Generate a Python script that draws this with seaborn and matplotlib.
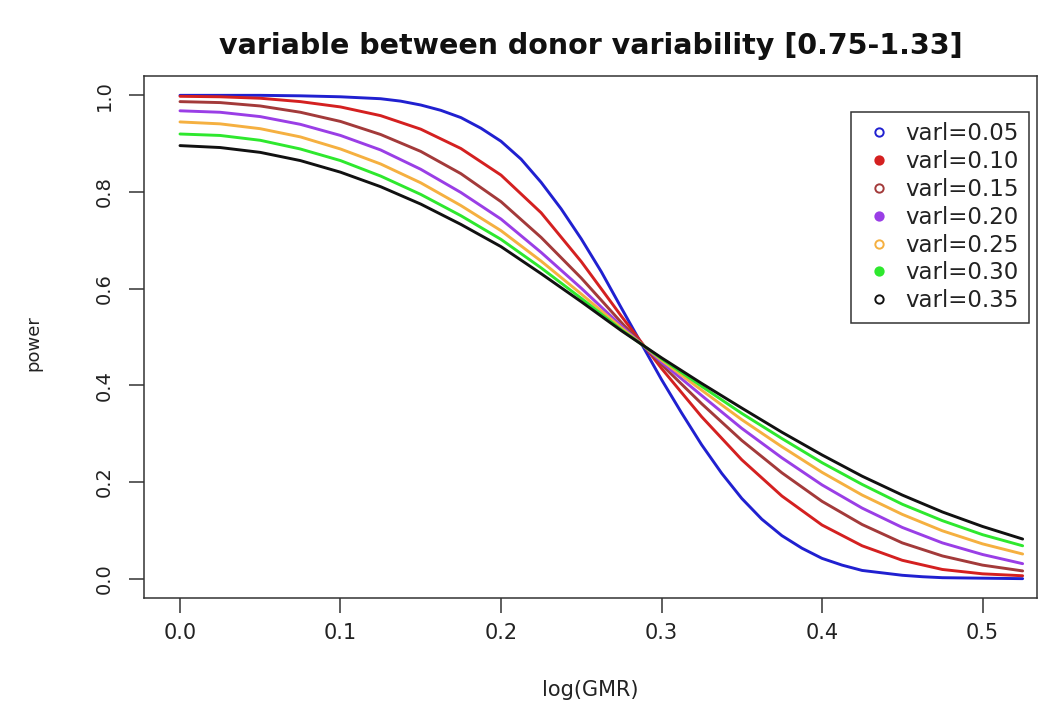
import numpy as np
import pandas as pd
import matplotlib
matplotlib.use("Agg")
import matplotlib.pyplot as plt
import seaborn as sns
from matplotlib.lines import Line2D

# ---------------- data ----------------
log_gmr = [0.000, 0.025, 0.050, 0.075, 0.100, 0.125, 0.150, 0.175, 0.200, 0.225, 0.250,
           0.275, 0.300, 0.325, 0.350, 0.375, 0.400, 0.425, 0.450, 0.475, 0.500, 0.525]

# the steep varl=0.05 curve was read at a finer step
log_gmr_005 = [0.000, 0.025, 0.050, 0.075, 0.100, 0.125, 0.1375, 0.150, 0.1625, 0.175,
               0.1875, 0.200, 0.2125, 0.225, 0.2375, 0.250, 0.2625, 0.275, 0.2875, 0.300,
               0.3125, 0.325, 0.3375, 0.350, 0.3625, 0.375, 0.3875, 0.400, 0.4125, 0.425,
               0.4375, 0.450, 0.4625, 0.475, 0.500, 0.525]

varl_labels = ["varl=0.05", "varl=0.10", "varl=0.15", "varl=0.20",
               "varl=0.25", "varl=0.30", "varl=0.35"]

power_005 = [1.000, 1.000, 1.000, 0.999, 0.997, 0.993, 0.988, 0.980, 0.969, 0.954,
             0.932, 0.905, 0.868, 0.820, 0.765, 0.703, 0.635, 0.560, 0.486, 0.412,
             0.343, 0.277, 0.218, 0.166, 0.123, 0.089, 0.063, 0.042, 0.028, 0.017,
             0.012, 0.007, 0.004, 0.002, 0.001, 0.000]
power_010 = [0.998, 0.997, 0.994, 0.987, 0.976, 0.958, 0.930, 0.890, 0.835, 0.757, 0.656,
             0.543, 0.435, 0.335, 0.246, 0.171, 0.111, 0.068, 0.038, 0.019, 0.010, 0.006]
power_015 = [0.987, 0.985, 0.978, 0.965, 0.946, 0.919, 0.884, 0.838, 0.780, 0.706, 0.622,
             0.530, 0.443, 0.362, 0.286, 0.219, 0.160, 0.112, 0.074, 0.047, 0.028, 0.016]
power_020 = [0.968, 0.965, 0.956, 0.940, 0.917, 0.887, 0.847, 0.799, 0.744, 0.675, 0.601,
             0.523, 0.448, 0.379, 0.311, 0.250, 0.194, 0.146, 0.106, 0.074, 0.050, 0.031]
power_025 = [0.945, 0.941, 0.931, 0.914, 0.889, 0.858, 0.819, 0.772, 0.720, 0.657, 0.589,
             0.519, 0.452, 0.390, 0.329, 0.273, 0.220, 0.173, 0.133, 0.099, 0.072, 0.051]
power_030 = [0.920, 0.917, 0.907, 0.889, 0.865, 0.833, 0.795, 0.751, 0.702, 0.643, 0.580,
             0.515, 0.455, 0.398, 0.342, 0.290, 0.240, 0.195, 0.154, 0.120, 0.091, 0.068]
power_035 = [0.896, 0.892, 0.882, 0.865, 0.841, 0.811, 0.775, 0.733, 0.687, 0.631, 0.573,
             0.513, 0.457, 0.404, 0.353, 0.303, 0.256, 0.212, 0.173, 0.138, 0.108, 0.082]

x_ticks = [0.0, 0.1, 0.2, 0.3, 0.4, 0.5]
x_tick_labels = ["0.0", "0.1", "0.2", "0.3", "0.4", "0.5"]
y_ticks = [0.0, 0.2, 0.4, 0.6, 0.8, 1.0]
y_tick_labels = ["0.0", "0.2", "0.4", "0.6", "0.8", "1.0"]

# ---------------- styles ----------------
line_colors = ["#2020d0", "#d42020", "#a33a3a", "#9a3ee6", "#f5b040", "#2ee82e", "#111111"]
marker_filled = [False, True, False, True, False, True, False]

sns.set_theme(style="white")
plt.rcParams["font.family"] = ["DejaVu Sans"]

series_y = [power_005, power_010, power_015, power_020, power_025, power_030, power_035]
series_x = [log_gmr_005] + [log_gmr] * 6
frames = []
for lab, xs, ys in zip(varl_labels, series_x, series_y):
    frames.append(pd.DataFrame({"logGMR": xs, "power": ys, "varl": lab}))
df = pd.concat(frames, ignore_index=True)

fig = plt.figure(figsize=(10.4, 7.13), dpi=100)
ax = fig.add_axes([0.1385, 0.1613, 0.8587, 0.7321])

sns.lineplot(data=df, x="logGMR", y="power", hue="varl", hue_order=varl_labels,
             palette=line_colors, linewidth=2.1, estimator=None, sort=False,
             legend=False, ax=ax)

ax.set_xlim(-0.0224, 0.534)
ax.set_ylim(-0.04, 1.04)

ax.set_xticks(x_ticks)
ax.set_xticklabels(x_tick_labels, fontsize=15, color="#222222")
ax.set_yticks(y_ticks)
ax.set_yticklabels(y_tick_labels, fontsize=14, rotation=90, va="center", color="#222222")

ax.tick_params(axis="both", which="major", direction="out", length=11, width=1.1,
               color="#333333", bottom=True, left=True, top=False, right=False)
ax.tick_params(axis="x", pad=7)
ax.tick_params(axis="y", pad=11)

for sp in ax.spines.values():
    sp.set_visible(True)
    sp.set_color("#333333")
    sp.set_linewidth(1.1)

ax.set_title("variable between donor variability [0.75-1.33]", fontsize=20.5,
             fontweight="bold", pad=16, color="#111111")
ax.set_xlabel("log(GMR)", fontsize=15, color="#222222")
ax.set_ylabel("power", fontsize=13, color="#222222")
ax.xaxis.set_label_coords(0.5, -0.176)
ax.xaxis.label.set_va("center")
ax.yaxis.set_label_coords(-0.124, 0.488)
ax.yaxis.label.set_va("center")

handles = []
for col, filled, lab in zip(line_colors, marker_filled, varl_labels):
    handles.append(Line2D([0], [0], linestyle="none", marker="o", markersize=6,
                          markeredgewidth=1.4, markeredgecolor=col,
                          markerfacecolor=col if filled else "none", label=lab))
leg = ax.legend(handles=handles, loc="upper right", bbox_to_anchor=(0.991, 0.931),
                borderaxespad=0, fontsize=16.5, frameon=True, fancybox=False,
                handlelength=1.5, handletextpad=0.4, labelspacing=0.21,
                borderpad=0.45, edgecolor="#333333", framealpha=1)
leg.get_frame().set_linewidth(1.1)
for t in leg.get_texts():
    t.set_color("#222222")

fig.savefig("out.png", dpi=100)
